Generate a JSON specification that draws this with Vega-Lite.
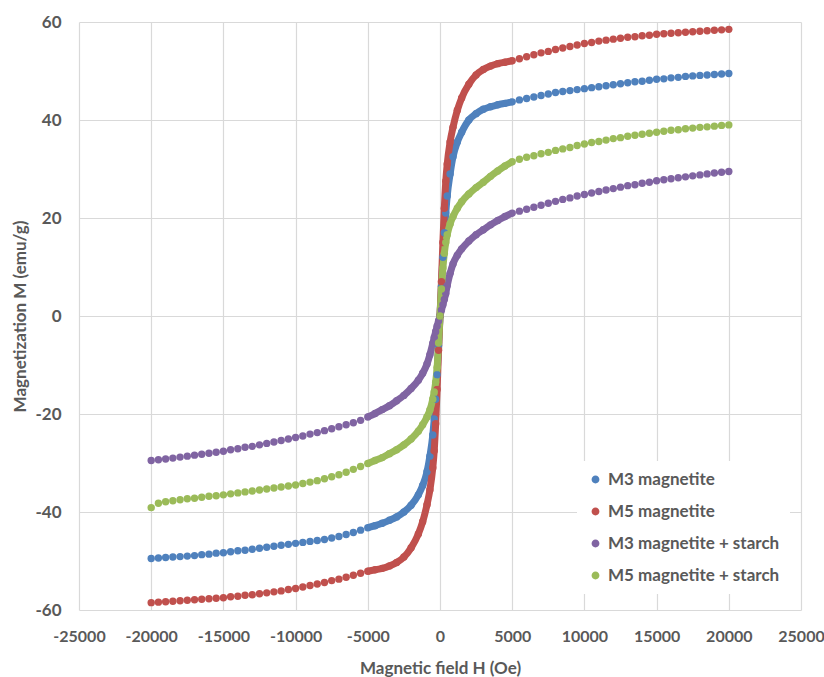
{
"$schema": "https://vega.github.io/schema/vega-lite/v6.json",
"width": 722,
"height": 588,
"autosize": {"type": "none"},
"padding": {"left": 79, "top": 22, "right": 23, "bottom": 67},
"background": "white",
"config": {
  "view": {"stroke": null},
  "axis": {"labelFont": "Lato", "labelFontWeight": "bold", "labelFontSize": 17, "labelColor": "#595959", "titleFont": "Lato", "titleFontWeight": "bold", "titleFontSize": 17, "titleColor": "#595959", "gridColor": "#d9d9d9", "gridWidth": 1.2, "domain": false, "ticks": false, "labelOverlap": false, "labelFlush": false},
  "legend": {"labelFont": "Lato", "labelFontWeight": "bold", "labelFontSize": 17, "labelColor": "#595959", "labelLimit": 0}
},
"data": {"values": [
{"s":"M3 magnetite","H":-20000,"M":-49.5},{"s":"M3 magnetite","H":-19500,"M":-49.4},{"s":"M3 magnetite","H":-19000,"M":-49.3},{"s":"M3 magnetite","H":-18500,"M":-49.2},{"s":"M3 magnetite","H":-18000,"M":-49.1},{"s":"M3 magnetite","H":-17500,"M":-49.0},{"s":"M3 magnetite","H":-17000,"M":-48.9},{"s":"M3 magnetite","H":-16500,"M":-48.7},{"s":"M3 magnetite","H":-16000,"M":-48.6},{"s":"M3 magnetite","H":-15500,"M":-48.4},{"s":"M3 magnetite","H":-15000,"M":-48.3},{"s":"M3 magnetite","H":-14500,"M":-48.1},{"s":"M3 magnetite","H":-14000,"M":-47.9},{"s":"M3 magnetite","H":-13500,"M":-47.8},{"s":"M3 magnetite","H":-13000,"M":-47.6},{"s":"M3 magnetite","H":-12500,"M":-47.4},{"s":"M3 magnetite","H":-12000,"M":-47.2},{"s":"M3 magnetite","H":-11500,"M":-47.0},{"s":"M3 magnetite","H":-11000,"M":-46.8},{"s":"M3 magnetite","H":-10500,"M":-46.6},{"s":"M3 magnetite","H":-10000,"M":-46.4},{"s":"M3 magnetite","H":-9500,"M":-46.2},{"s":"M3 magnetite","H":-9000,"M":-46.0},{"s":"M3 magnetite","H":-8500,"M":-45.8},{"s":"M3 magnetite","H":-8000,"M":-45.6},{"s":"M3 magnetite","H":-7500,"M":-45.3},{"s":"M3 magnetite","H":-7000,"M":-45.0},{"s":"M3 magnetite","H":-6500,"M":-44.6},{"s":"M3 magnetite","H":-6000,"M":-44.2},{"s":"M3 magnetite","H":-5500,"M":-43.7},{"s":"M3 magnetite","H":-5000,"M":-43.2},{"s":"M3 magnetite","H":-4500,"M":-42.8},{"s":"M3 magnetite","H":-4000,"M":-42.3},{"s":"M3 magnetite","H":-3500,"M":-41.7},{"s":"M3 magnetite","H":-3000,"M":-41.0},{"s":"M3 magnetite","H":-2500,"M":-40.0},{"s":"M3 magnetite","H":-2000,"M":-38.6},{"s":"M3 magnetite","H":-1500,"M":-36.5},{"s":"M3 magnetite","H":-1200,"M":-34.6},{"s":"M3 magnetite","H":-900,"M":-31.8},{"s":"M3 magnetite","H":-700,"M":-28.6},{"s":"M3 magnetite","H":-500,"M":-24.3},{"s":"M3 magnetite","H":-400,"M":-21.0},{"s":"M3 magnetite","H":-300,"M":-17.0},{"s":"M3 magnetite","H":-200,"M":-12.0},{"s":"M3 magnetite","H":-100,"M":-6.0},{"s":"M3 magnetite","H":0,"M":0},
{"s":"M3 magnetite","H":100,"M":6.0},{"s":"M3 magnetite","H":200,"M":12.0},{"s":"M3 magnetite","H":300,"M":17.0},{"s":"M3 magnetite","H":400,"M":21.0},{"s":"M3 magnetite","H":500,"M":24.5},{"s":"M3 magnetite","H":700,"M":29.0},{"s":"M3 magnetite","H":900,"M":32.5},{"s":"M3 magnetite","H":1200,"M":35.5},{"s":"M3 magnetite","H":1500,"M":37.5},{"s":"M3 magnetite","H":2000,"M":40.0},{"s":"M3 magnetite","H":2500,"M":41.3},{"s":"M3 magnetite","H":3000,"M":42.2},{"s":"M3 magnetite","H":3500,"M":42.7},{"s":"M3 magnetite","H":4000,"M":43.1},{"s":"M3 magnetite","H":4500,"M":43.4},{"s":"M3 magnetite","H":5000,"M":43.7},{"s":"M3 magnetite","H":5500,"M":44.1},{"s":"M3 magnetite","H":6000,"M":44.4},{"s":"M3 magnetite","H":6500,"M":44.7},{"s":"M3 magnetite","H":7000,"M":45.0},{"s":"M3 magnetite","H":7500,"M":45.3},{"s":"M3 magnetite","H":8000,"M":45.6},{"s":"M3 magnetite","H":8500,"M":45.8},{"s":"M3 magnetite","H":9000,"M":46.0},{"s":"M3 magnetite","H":9500,"M":46.2},{"s":"M3 magnetite","H":10000,"M":46.4},{"s":"M3 magnetite","H":10500,"M":46.6},{"s":"M3 magnetite","H":11000,"M":46.8},{"s":"M3 magnetite","H":11500,"M":47.0},{"s":"M3 magnetite","H":12000,"M":47.2},{"s":"M3 magnetite","H":12500,"M":47.4},{"s":"M3 magnetite","H":13000,"M":47.6},{"s":"M3 magnetite","H":13500,"M":47.8},{"s":"M3 magnetite","H":14000,"M":47.9},{"s":"M3 magnetite","H":14500,"M":48.1},{"s":"M3 magnetite","H":15000,"M":48.3},{"s":"M3 magnetite","H":15500,"M":48.4},{"s":"M3 magnetite","H":16000,"M":48.6},{"s":"M3 magnetite","H":16500,"M":48.7},{"s":"M3 magnetite","H":17000,"M":48.9},{"s":"M3 magnetite","H":17500,"M":49.0},{"s":"M3 magnetite","H":18000,"M":49.1},{"s":"M3 magnetite","H":18500,"M":49.2},{"s":"M3 magnetite","H":19000,"M":49.3},{"s":"M3 magnetite","H":19500,"M":49.4},{"s":"M3 magnetite","H":20000,"M":49.5},
{"s":"M5 magnetite","H":-20000,"M":-58.5},{"s":"M5 magnetite","H":-19500,"M":-58.4},{"s":"M5 magnetite","H":-19000,"M":-58.3},{"s":"M5 magnetite","H":-18500,"M":-58.2},{"s":"M5 magnetite","H":-18000,"M":-58.1},{"s":"M5 magnetite","H":-17500,"M":-58.0},{"s":"M5 magnetite","H":-17000,"M":-57.9},{"s":"M5 magnetite","H":-16500,"M":-57.8},{"s":"M5 magnetite","H":-16000,"M":-57.7},{"s":"M5 magnetite","H":-15500,"M":-57.6},{"s":"M5 magnetite","H":-15000,"M":-57.5},{"s":"M5 magnetite","H":-14500,"M":-57.3},{"s":"M5 magnetite","H":-14000,"M":-57.2},{"s":"M5 magnetite","H":-13500,"M":-57.0},{"s":"M5 magnetite","H":-13000,"M":-56.9},{"s":"M5 magnetite","H":-12500,"M":-56.7},{"s":"M5 magnetite","H":-12000,"M":-56.5},{"s":"M5 magnetite","H":-11500,"M":-56.3},{"s":"M5 magnetite","H":-11000,"M":-56.1},{"s":"M5 magnetite","H":-10500,"M":-55.8},{"s":"M5 magnetite","H":-10000,"M":-55.6},{"s":"M5 magnetite","H":-9500,"M":-55.3},{"s":"M5 magnetite","H":-9000,"M":-55.0},{"s":"M5 magnetite","H":-8500,"M":-54.7},{"s":"M5 magnetite","H":-8000,"M":-54.4},{"s":"M5 magnetite","H":-7500,"M":-54.0},{"s":"M5 magnetite","H":-7000,"M":-53.7},{"s":"M5 magnetite","H":-6500,"M":-53.3},{"s":"M5 magnetite","H":-6000,"M":-52.9},{"s":"M5 magnetite","H":-5500,"M":-52.5},{"s":"M5 magnetite","H":-5000,"M":-52.1},{"s":"M5 magnetite","H":-4500,"M":-51.8},{"s":"M5 magnetite","H":-4000,"M":-51.5},{"s":"M5 magnetite","H":-3500,"M":-51.0},{"s":"M5 magnetite","H":-3000,"M":-50.3},{"s":"M5 magnetite","H":-2500,"M":-49.2},{"s":"M5 magnetite","H":-2000,"M":-47.3},{"s":"M5 magnetite","H":-1500,"M":-44.5},{"s":"M5 magnetite","H":-1200,"M":-42.0},{"s":"M5 magnetite","H":-900,"M":-38.5},{"s":"M5 magnetite","H":-700,"M":-35.5},{"s":"M5 magnetite","H":-500,"M":-31.0},{"s":"M5 magnetite","H":-400,"M":-27.5},{"s":"M5 magnetite","H":-300,"M":-22.0},{"s":"M5 magnetite","H":-200,"M":-15.0},{"s":"M5 magnetite","H":-100,"M":-7.0},{"s":"M5 magnetite","H":0,"M":0},
{"s":"M5 magnetite","H":100,"M":7.0},{"s":"M5 magnetite","H":200,"M":15.0},{"s":"M5 magnetite","H":300,"M":22.0},{"s":"M5 magnetite","H":400,"M":27.5},{"s":"M5 magnetite","H":500,"M":31.0},{"s":"M5 magnetite","H":700,"M":35.5},{"s":"M5 magnetite","H":900,"M":38.5},{"s":"M5 magnetite","H":1200,"M":42.0},{"s":"M5 magnetite","H":1500,"M":44.5},{"s":"M5 magnetite","H":2000,"M":47.3},{"s":"M5 magnetite","H":2500,"M":49.2},{"s":"M5 magnetite","H":3000,"M":50.3},{"s":"M5 magnetite","H":3500,"M":51.0},{"s":"M5 magnetite","H":4000,"M":51.5},{"s":"M5 magnetite","H":4500,"M":51.8},{"s":"M5 magnetite","H":5000,"M":52.1},{"s":"M5 magnetite","H":5500,"M":52.5},{"s":"M5 magnetite","H":6000,"M":52.9},{"s":"M5 magnetite","H":6500,"M":53.3},{"s":"M5 magnetite","H":7000,"M":53.7},{"s":"M5 magnetite","H":7500,"M":54.0},{"s":"M5 magnetite","H":8000,"M":54.4},{"s":"M5 magnetite","H":8500,"M":54.7},{"s":"M5 magnetite","H":9000,"M":55.0},{"s":"M5 magnetite","H":9500,"M":55.3},{"s":"M5 magnetite","H":10000,"M":55.6},{"s":"M5 magnetite","H":10500,"M":55.8},{"s":"M5 magnetite","H":11000,"M":56.1},{"s":"M5 magnetite","H":11500,"M":56.3},{"s":"M5 magnetite","H":12000,"M":56.5},{"s":"M5 magnetite","H":12500,"M":56.7},{"s":"M5 magnetite","H":13000,"M":56.9},{"s":"M5 magnetite","H":13500,"M":57.0},{"s":"M5 magnetite","H":14000,"M":57.2},{"s":"M5 magnetite","H":14500,"M":57.3},{"s":"M5 magnetite","H":15000,"M":57.5},{"s":"M5 magnetite","H":15500,"M":57.6},{"s":"M5 magnetite","H":16000,"M":57.7},{"s":"M5 magnetite","H":16500,"M":57.8},{"s":"M5 magnetite","H":17000,"M":57.9},{"s":"M5 magnetite","H":17500,"M":58.0},{"s":"M5 magnetite","H":18000,"M":58.1},{"s":"M5 magnetite","H":18500,"M":58.2},{"s":"M5 magnetite","H":19000,"M":58.3},{"s":"M5 magnetite","H":19500,"M":58.4},{"s":"M5 magnetite","H":20000,"M":58.5},
{"s":"M3 magnetite + starch","H":-20000,"M":-29.5},{"s":"M3 magnetite + starch","H":-19500,"M":-29.35},{"s":"M3 magnetite + starch","H":-19000,"M":-29.2},{"s":"M3 magnetite + starch","H":-18500,"M":-29.0},{"s":"M3 magnetite + starch","H":-18000,"M":-28.8},{"s":"M3 magnetite + starch","H":-17500,"M":-28.6},{"s":"M3 magnetite + starch","H":-17000,"M":-28.4},{"s":"M3 magnetite + starch","H":-16500,"M":-28.2},{"s":"M3 magnetite + starch","H":-16000,"M":-28.0},{"s":"M3 magnetite + starch","H":-15500,"M":-27.8},{"s":"M3 magnetite + starch","H":-15000,"M":-27.6},{"s":"M3 magnetite + starch","H":-14500,"M":-27.3},{"s":"M3 magnetite + starch","H":-14000,"M":-27.1},{"s":"M3 magnetite + starch","H":-13500,"M":-26.8},{"s":"M3 magnetite + starch","H":-13000,"M":-26.6},{"s":"M3 magnetite + starch","H":-12500,"M":-26.3},{"s":"M3 magnetite + starch","H":-12000,"M":-26.0},{"s":"M3 magnetite + starch","H":-11500,"M":-25.7},{"s":"M3 magnetite + starch","H":-11000,"M":-25.4},{"s":"M3 magnetite + starch","H":-10500,"M":-25.1},{"s":"M3 magnetite + starch","H":-10000,"M":-24.8},{"s":"M3 magnetite + starch","H":-9500,"M":-24.5},{"s":"M3 magnetite + starch","H":-9000,"M":-24.1},{"s":"M3 magnetite + starch","H":-8500,"M":-23.8},{"s":"M3 magnetite + starch","H":-8000,"M":-23.4},{"s":"M3 magnetite + starch","H":-7500,"M":-23.0},{"s":"M3 magnetite + starch","H":-7000,"M":-22.6},{"s":"M3 magnetite + starch","H":-6500,"M":-22.2},{"s":"M3 magnetite + starch","H":-6000,"M":-21.8},{"s":"M3 magnetite + starch","H":-5500,"M":-21.3},{"s":"M3 magnetite + starch","H":-5000,"M":-20.6},{"s":"M3 magnetite + starch","H":-4500,"M":-19.9},{"s":"M3 magnetite + starch","H":-4000,"M":-19.1},{"s":"M3 magnetite + starch","H":-3500,"M":-18.3},{"s":"M3 magnetite + starch","H":-3000,"M":-17.3},{"s":"M3 magnetite + starch","H":-2500,"M":-16.2},{"s":"M3 magnetite + starch","H":-2000,"M":-14.8},{"s":"M3 magnetite + starch","H":-1500,"M":-13.1},{"s":"M3 magnetite + starch","H":-1200,"M":-11.7},{"s":"M3 magnetite + starch","H":-900,"M":-9.8},{"s":"M3 magnetite + starch","H":-700,"M":-7.9},{"s":"M3 magnetite + starch","H":-500,"M":-5.6},{"s":"M3 magnetite + starch","H":-400,"M":-4.4},{"s":"M3 magnetite + starch","H":-300,"M":-3.2},{"s":"M3 magnetite + starch","H":-200,"M":-2.1},{"s":"M3 magnetite + starch","H":-100,"M":-1.0},{"s":"M3 magnetite + starch","H":0,"M":0},
{"s":"M3 magnetite + starch","H":100,"M":1.2},{"s":"M3 magnetite + starch","H":200,"M":2.3},{"s":"M3 magnetite + starch","H":300,"M":3.4},{"s":"M3 magnetite + starch","H":400,"M":4.6},{"s":"M3 magnetite + starch","H":500,"M":6.2},{"s":"M3 magnetite + starch","H":700,"M":8.7},{"s":"M3 magnetite + starch","H":900,"M":10.6},{"s":"M3 magnetite + starch","H":1200,"M":12.4},{"s":"M3 magnetite + starch","H":1500,"M":13.7},{"s":"M3 magnetite + starch","H":2000,"M":15.3},{"s":"M3 magnetite + starch","H":2500,"M":16.6},{"s":"M3 magnetite + starch","H":3000,"M":17.6},{"s":"M3 magnetite + starch","H":3500,"M":18.6},{"s":"M3 magnetite + starch","H":4000,"M":19.5},{"s":"M3 magnetite + starch","H":4500,"M":20.3},{"s":"M3 magnetite + starch","H":5000,"M":21.0},{"s":"M3 magnetite + starch","H":5500,"M":21.4},{"s":"M3 magnetite + starch","H":6000,"M":21.8},{"s":"M3 magnetite + starch","H":6500,"M":22.2},{"s":"M3 magnetite + starch","H":7000,"M":22.6},{"s":"M3 magnetite + starch","H":7500,"M":23.0},{"s":"M3 magnetite + starch","H":8000,"M":23.4},{"s":"M3 magnetite + starch","H":8500,"M":23.8},{"s":"M3 magnetite + starch","H":9000,"M":24.1},{"s":"M3 magnetite + starch","H":9500,"M":24.5},{"s":"M3 magnetite + starch","H":10000,"M":24.8},{"s":"M3 magnetite + starch","H":10500,"M":25.1},{"s":"M3 magnetite + starch","H":11000,"M":25.4},{"s":"M3 magnetite + starch","H":11500,"M":25.7},{"s":"M3 magnetite + starch","H":12000,"M":26.0},{"s":"M3 magnetite + starch","H":12500,"M":26.3},{"s":"M3 magnetite + starch","H":13000,"M":26.6},{"s":"M3 magnetite + starch","H":13500,"M":26.8},{"s":"M3 magnetite + starch","H":14000,"M":27.1},{"s":"M3 magnetite + starch","H":14500,"M":27.3},{"s":"M3 magnetite + starch","H":15000,"M":27.6},{"s":"M3 magnetite + starch","H":15500,"M":27.8},{"s":"M3 magnetite + starch","H":16000,"M":28.0},{"s":"M3 magnetite + starch","H":16500,"M":28.2},{"s":"M3 magnetite + starch","H":17000,"M":28.4},{"s":"M3 magnetite + starch","H":17500,"M":28.6},{"s":"M3 magnetite + starch","H":18000,"M":28.8},{"s":"M3 magnetite + starch","H":18500,"M":29.0},{"s":"M3 magnetite + starch","H":19000,"M":29.2},{"s":"M3 magnetite + starch","H":19500,"M":29.35},{"s":"M3 magnetite + starch","H":20000,"M":29.5},
{"s":"M5 magnetite + starch","H":-20000,"M":-39.1},{"s":"M5 magnetite + starch","H":-19500,"M":-38.2},{"s":"M5 magnetite + starch","H":-19000,"M":-37.9},{"s":"M5 magnetite + starch","H":-18500,"M":-37.7},{"s":"M5 magnetite + starch","H":-18000,"M":-37.5},{"s":"M5 magnetite + starch","H":-17500,"M":-37.3},{"s":"M5 magnetite + starch","H":-17000,"M":-37.2},{"s":"M5 magnetite + starch","H":-16500,"M":-37.0},{"s":"M5 magnetite + starch","H":-16000,"M":-36.8},{"s":"M5 magnetite + starch","H":-15500,"M":-36.7},{"s":"M5 magnetite + starch","H":-15000,"M":-36.5},{"s":"M5 magnetite + starch","H":-14500,"M":-36.3},{"s":"M5 magnetite + starch","H":-14000,"M":-36.1},{"s":"M5 magnetite + starch","H":-13500,"M":-35.9},{"s":"M5 magnetite + starch","H":-13000,"M":-35.7},{"s":"M5 magnetite + starch","H":-12500,"M":-35.5},{"s":"M5 magnetite + starch","H":-12000,"M":-35.3},{"s":"M5 magnetite + starch","H":-11500,"M":-35.1},{"s":"M5 magnetite + starch","H":-11000,"M":-34.9},{"s":"M5 magnetite + starch","H":-10500,"M":-34.7},{"s":"M5 magnetite + starch","H":-10000,"M":-34.5},{"s":"M5 magnetite + starch","H":-9500,"M":-34.2},{"s":"M5 magnetite + starch","H":-9000,"M":-33.9},{"s":"M5 magnetite + starch","H":-8500,"M":-33.6},{"s":"M5 magnetite + starch","H":-8000,"M":-33.2},{"s":"M5 magnetite + starch","H":-7500,"M":-32.8},{"s":"M5 magnetite + starch","H":-7000,"M":-32.4},{"s":"M5 magnetite + starch","H":-6500,"M":-31.9},{"s":"M5 magnetite + starch","H":-6000,"M":-31.3},{"s":"M5 magnetite + starch","H":-5500,"M":-30.7},{"s":"M5 magnetite + starch","H":-5000,"M":-30.1},{"s":"M5 magnetite + starch","H":-4500,"M":-29.5},{"s":"M5 magnetite + starch","H":-4000,"M":-28.9},{"s":"M5 magnetite + starch","H":-3500,"M":-28.1},{"s":"M5 magnetite + starch","H":-3000,"M":-27.3},{"s":"M5 magnetite + starch","H":-2500,"M":-26.3},{"s":"M5 magnetite + starch","H":-2000,"M":-25.1},{"s":"M5 magnetite + starch","H":-1500,"M":-23.5},{"s":"M5 magnetite + starch","H":-1200,"M":-22.2},{"s":"M5 magnetite + starch","H":-900,"M":-20.6},{"s":"M5 magnetite + starch","H":-700,"M":-19.2},{"s":"M5 magnetite + starch","H":-500,"M":-17.0},{"s":"M5 magnetite + starch","H":-400,"M":-15.5},{"s":"M5 magnetite + starch","H":-300,"M":-13.5},{"s":"M5 magnetite + starch","H":-200,"M":-10.5},{"s":"M5 magnetite + starch","H":-100,"M":-5.5},{"s":"M5 magnetite + starch","H":0,"M":0},
{"s":"M5 magnetite + starch","H":100,"M":5.5},{"s":"M5 magnetite + starch","H":200,"M":9.8},{"s":"M5 magnetite + starch","H":300,"M":12.8},{"s":"M5 magnetite + starch","H":400,"M":15.0},{"s":"M5 magnetite + starch","H":500,"M":16.6},{"s":"M5 magnetite + starch","H":700,"M":18.8},{"s":"M5 magnetite + starch","H":900,"M":20.3},{"s":"M5 magnetite + starch","H":1200,"M":22.0},{"s":"M5 magnetite + starch","H":1500,"M":23.3},{"s":"M5 magnetite + starch","H":2000,"M":24.9},{"s":"M5 magnetite + starch","H":2500,"M":26.2},{"s":"M5 magnetite + starch","H":3000,"M":27.3},{"s":"M5 magnetite + starch","H":3500,"M":28.5},{"s":"M5 magnetite + starch","H":4000,"M":29.6},{"s":"M5 magnetite + starch","H":4500,"M":30.6},{"s":"M5 magnetite + starch","H":5000,"M":31.5},{"s":"M5 magnetite + starch","H":5500,"M":32.0},{"s":"M5 magnetite + starch","H":6000,"M":32.4},{"s":"M5 magnetite + starch","H":6500,"M":32.7},{"s":"M5 magnetite + starch","H":7000,"M":33.1},{"s":"M5 magnetite + starch","H":7500,"M":33.4},{"s":"M5 magnetite + starch","H":8000,"M":33.8},{"s":"M5 magnetite + starch","H":8500,"M":34.1},{"s":"M5 magnetite + starch","H":9000,"M":34.4},{"s":"M5 magnetite + starch","H":9500,"M":34.8},{"s":"M5 magnetite + starch","H":10000,"M":35.1},{"s":"M5 magnetite + starch","H":10500,"M":35.4},{"s":"M5 magnetite + starch","H":11000,"M":35.6},{"s":"M5 magnetite + starch","H":11500,"M":35.9},{"s":"M5 magnetite + starch","H":12000,"M":36.2},{"s":"M5 magnetite + starch","H":12500,"M":36.4},{"s":"M5 magnetite + starch","H":13000,"M":36.7},{"s":"M5 magnetite + starch","H":13500,"M":36.9},{"s":"M5 magnetite + starch","H":14000,"M":37.1},{"s":"M5 magnetite + starch","H":14500,"M":37.3},{"s":"M5 magnetite + starch","H":15000,"M":37.5},{"s":"M5 magnetite + starch","H":15500,"M":37.7},{"s":"M5 magnetite + starch","H":16000,"M":37.9},{"s":"M5 magnetite + starch","H":16500,"M":38.0},{"s":"M5 magnetite + starch","H":17000,"M":38.2},{"s":"M5 magnetite + starch","H":17500,"M":38.35},{"s":"M5 magnetite + starch","H":18000,"M":38.5},{"s":"M5 magnetite + starch","H":18500,"M":38.6},{"s":"M5 magnetite + starch","H":19000,"M":38.75},{"s":"M5 magnetite + starch","H":19500,"M":38.9},{"s":"M5 magnetite + starch","H":20000,"M":39.0}
]},
"encoding": {
  "x": {"field": "H", "type": "quantitative", "title": "Magnetic field H (Oe)", "scale": {"domain": [-25000, 25000], "nice": false}, "axis": {"values": [-25000,-20000,-15000,-10000,-5000,0,5000,10000,15000,20000,25000], "labelExpr": "'' + datum.value", "labelFontSize": 16, "labelPadding": 18, "titlePadding": 16}},
  "y": {"field": "M", "type": "quantitative", "title": "Magnetization M (emu/g)", "scale": {"domain": [-60, 60], "nice": false}, "axis": {"values": [-60,-40,-20,0,20,40,60], "labelExpr": "'' + datum.value", "labelPadding": 18, "titlePadding": 5}}
},
"layer": [
  {
    "transform": [{"filter": "datum.H >= -5000 && datum.H <= 5000"}],
    "mark": {"type": "line", "strokeWidth": 7, "interpolate": "monotone"},
    "encoding": {
      "stroke": {"field": "s", "type": "nominal", "scale": {"domain": ["M3 magnetite", "M5 magnetite", "M3 magnetite + starch", "M5 magnetite + starch"], "range": ["#4F81BD", "#C0504D", "#8064A2", "#9BBB59"]},
        "legend": {"title": null, "orient": "none", "legendX": 498, "legendY": 439, "fillColor": "white", "padding": 10, "symbolType": "circle", "symbolSize": 40, "rowPadding": 14, "labelOffset": 4}}
    }
  },
  {
    "mark": {"type": "point", "filled": true, "size": 55, "opacity": 1},
    "encoding": {
      "color": {"field": "s", "type": "nominal", "scale": {"domain": ["M3 magnetite", "M5 magnetite", "M3 magnetite + starch", "M5 magnetite + starch"], "range": ["#4F81BD", "#C0504D", "#8064A2", "#9BBB59"]},
        "legend": {"title": null, "orient": "none", "legendX": 498, "legendY": 439, "fillColor": "white", "padding": 10, "symbolType": "circle", "symbolSize": 40, "rowPadding": 14, "labelOffset": 4}}
    }
  }
]
}
